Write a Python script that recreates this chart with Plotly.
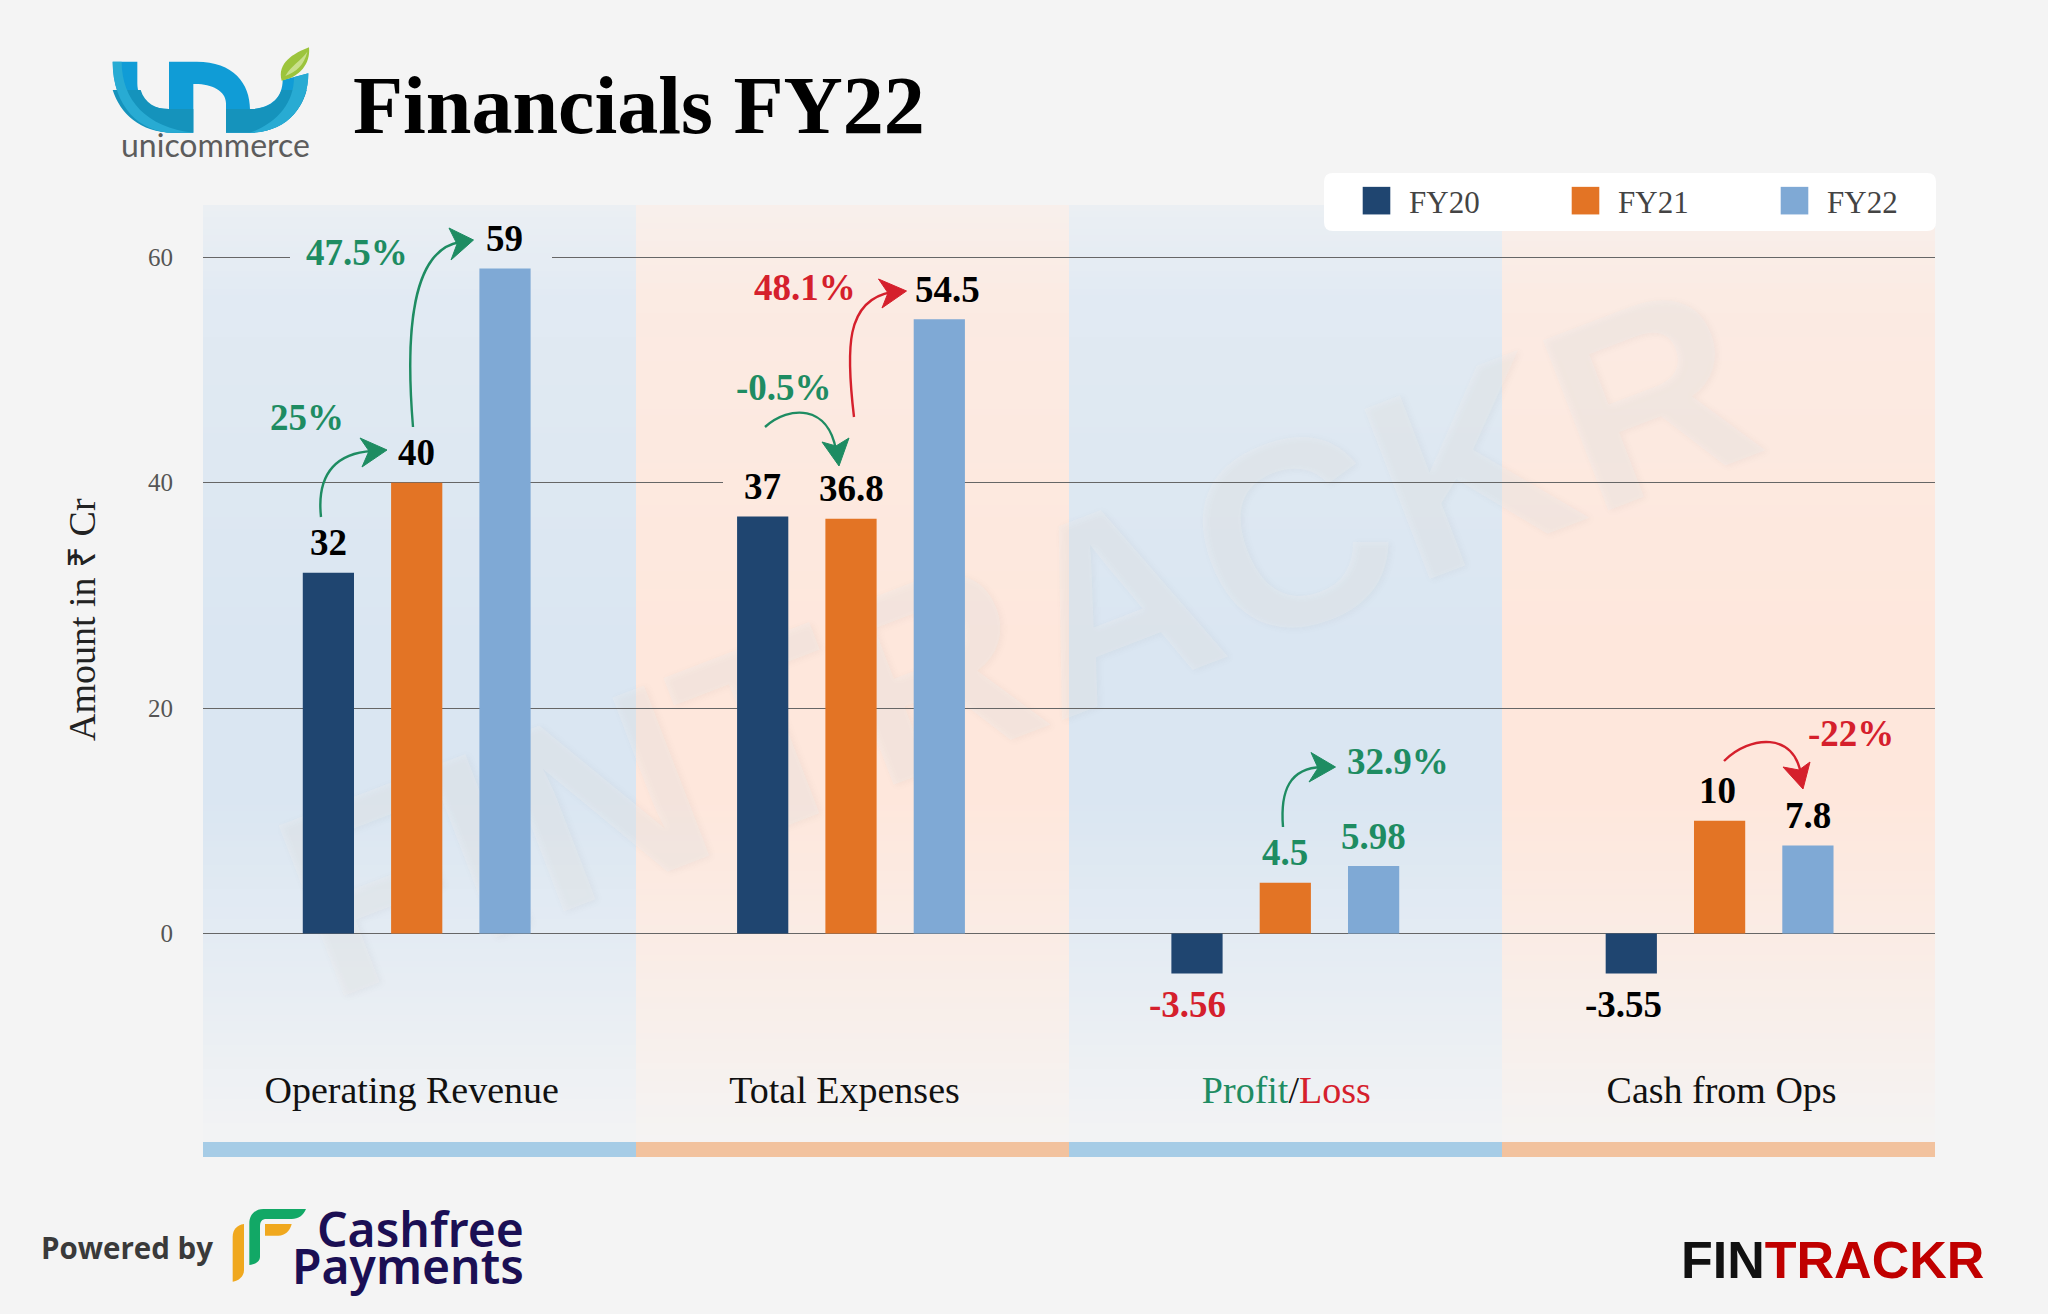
import numpy as np
import plotly.graph_objects as go

categories = ["Operating Revenue", "Total Expenses", "Profit/Loss", "Cash from Ops"]
tick_labels = ["Operating Revenue", "Total Expenses",
               '<span style="color:#1E8C62">Profit</span>/<span style="color:#D5202C">Loss</span>',
               "Cash from Ops"]
fy20 = [32, 37, -3.56, -3.55]
fy21 = [40, 36.8, 4.5, 10]
fy22 = [59, 54.5, 5.98, 7.8]
series_names = ["FY20", "FY21", "FY22"]
series_colors = ["#1F4570", "#E37425", "#7FA9D5"]
y_ticks = [0, 20, 40, 60]

W, H = 2048, 1314
L, R, T, B = 203, 1935, 205, 1054   # plot area in page pixels
BG = "#F4F4F4"
GREEN, RED = "#1E8C62", "#D5202C"
SERIF = "Liberation Serif"

X0, XS = 416.7, 434.3
Y0, YS = 933.5, 11.27


def px(x):
    return (x - L) / (R - L)


def py(y):
    return 1 - (y - T) / (B - T)


def path(d):
    """SVG-like path given in page pixels -> paper coordinates."""
    out, toks = [], d.split()
    for t in toks:
        if "," in t:
            a, b = t.split(",")
            out.append(f"{px(float(a)):.5f},{py(float(b)):.5f}")
        else:
            out.append(t)
    return " ".join(out)


def rel(d, ox, oy, s=1 / 3):
    out = []
    for t in d.split():
        if "," in t:
            a, b = t.split(",")
            out.append(f"{ox + float(a) * s:.2f},{oy + float(b) * s:.2f}")
        else:
            out.append(t)
    return " ".join(out)


def mix(c, a):
    b = np.array([0xF4, 0xF4, 0xF4])
    r = b + (np.array(c) - b) * a
    return "rgb(%d,%d,%d)" % tuple(np.round(r))


def fade(y):
    return float(np.interp(y, [205, 300, 650, 800, 1000, 1142], [0.35, 0.72, 1, 1, 0.45, 0.05]))


BLUE_BAND, ORANGE_BAND = (218, 230, 242), (254, 231, 220)

fig = go.Figure()
for name, vals, col in zip(series_names, [fy20, fy21, fy22], series_colors):
    fig.add_bar(name=name, x=list(range(4)), y=vals, marker=dict(color=col, line=dict(width=0)))

shapes, ann = [], []

# background bands with vertical fade
edges = np.arange(205, 1143, 6)
for i in range(4):
    c = BLUE_BAND if i % 2 == 0 else ORANGE_BAND
    for a, b in zip(edges[:-1], edges[1:]):
        shapes.append(dict(type="rect", xref="paper", yref="paper", layer="below",
                           x0=i / 4, x1=(i + 1) / 4, y0=py(a), y1=py(b + 1),
                           fillcolor=mix(c, fade((a + b) / 2)), line=dict(width=0)))
    shapes.append(dict(type="rect", xref="paper", yref="paper", layer="below",
                       x0=i / 4, x1=(i + 1) / 4, y0=py(1142), y1=py(1157),
                       fillcolor="#A6CCE6" if i % 2 == 0 else "#F2C29E", line=dict(width=0)))

# watermark
shapes.append(dict(type="rect", xref="paper", yref="paper", layer="below",
                   x0=px(207), x1=px(1807), y0=py(816), y1=py(416),
                   line=dict(width=0), fillcolor="rgba(0,0,0,0)",
                   label=dict(text="FINTRACKR", textangle=-21, textposition="middle center",
                              font=dict(family="Liberation Sans", size=265, weight=700,
                                        color="rgba(240,240,240,0.3)",
                                        shadow="2px 2px 6px rgba(120,120,120,0.22)"))))

# gaps in the gridlines behind labels
for (xa, xb, v, c) in [(290, 552, 60, BLUE_BAND), (723, 963, 40, ORANGE_BAND)]:
    pix = Y0 - v * YS
    shapes.append(dict(type="rect", xref="x", yref="y", layer="between",
                       x0=(xa - X0) / XS, x1=(xb - X0) / XS, y0=v - 0.25, y1=v + 0.25,
                       fillcolor=mix(c, fade(pix)), line=dict(width=0)))

# legend plate
lx0, lx1, ly0, ly1, rr = 1324, 1936, 173, 231, 9
shapes.append(dict(type="path", xref="paper", yref="paper", layer="below", fillcolor="white",
                   line=dict(width=0),
                   path=path(f"M {lx0+rr},{ly0} L {lx1-rr},{ly0} Q {lx1},{ly0} {lx1},{ly0+rr} "
                             f"L {lx1},{ly1-rr} Q {lx1},{ly1} {lx1-rr},{ly1} L {lx0+rr},{ly1} "
                             f"Q {lx0},{ly1} {lx0},{ly1-rr} L {lx0},{ly0+rr} Q {lx0},{ly0} {lx0+rr},{ly0} Z")))

# curved arrows: (curve, head, colour)
arrows = [
    ("M 321,517 C 316,470 340,453 372,451", "M 387,450 L 360,438 L 369,451 L 362,467 Z", GREEN),
    ("M 413,427 C 405,330 412,250 460,242", "M 473.5,240 L 449,228 L 457,244 L 451,260 Z", GREEN),
    ("M 765,427 C 790,405 828,405 836,450", "M 839,466 L 822,442 L 836,446 L 849,438 Z", GREEN),
    ("M 854,417 C 846,350 845,300 892,292", "M 906.5,291 L 878.5,279 L 888,293 L 882,308 Z", RED),
    ("M 1283,827 C 1280,790 1290,768 1322,767", "M 1335.5,767 L 1311,752.5 L 1318,768 L 1309,782 Z", GREEN),
    ("M 1724,761 C 1750,735 1795,732 1801,775", "M 1803,789 L 1783,767 L 1799,770 L 1810,762 Z", RED),
]
for curve, head, col in arrows:
    shapes.append(dict(type="path", xref="paper", yref="paper", layer="above", path=path(curve),
                       line=dict(color=col, width=2.4)))
    shapes.append(dict(type="path", xref="paper", yref="paper", layer="above", path=path(head),
                       fillcolor=col, line=dict(color=col, width=1)))

# Unicommerce mark
U = "M 38,65 L 112,65 L 112,130 C 112,180 150,207 207,207 L 207,65 L 290,65 C 400,65 450,130 450,208 " \
    "C 510,205 548,175 548,120 L 625,100 C 625,200 560,278 450,278 L 378,278 L 378,190 " \
    "C 378,150 330,130 280,132 L 280,278 L 220,278 C 120,278 38,200 38,65 Z"
U_low = "M 38,150 L 122,150 C 135,190 165,207 207,207 L 280,207 L 280,278 L 220,278 C 120,278 60,220 38,150 Z"
U_low2 = "M 378,207 L 450,207 C 500,207 530,190 545,150 L 620,150 C 600,230 530,278 450,278 L 378,278 Z"
U_l = "M 38,65 L 65,65 C 65,180 140,262 280,278 L 220,278 C 120,278 38,200 38,65 Z"
U_r = "M 582,112 L 625,100 C 625,200 560,278 450,278 C 530,250 582,190 582,112 Z"
leaf = "M 545,122 C 530,70 580,40 627,22 C 632,70 600,112 545,122 Z"
vein = "M 556,108 C 575,75 600,65 622,35 C 612,75 590,95 556,108 Z"
for d, c in [(U, "#109CD6"), (U_low, "#1593BC"), (U_low2, "#1593BC"), (U_l, "#28ABD3"),
             (U_r, "#28ABD3"), (leaf, "#9CC43C"), (vein, "#C9E08C")]:
    shapes.append(dict(type="path", xref="paper", yref="paper", layer="below",
                       path=path(rel(d, 100, 40)), fillcolor=c, line=dict(width=0)))

# Cashfree mark
cf = [("M 88,210 L 88,85 C 88,60 105,42 130,42 L 258,42 C 250,62 235,72 215,72 L 140,72 "
       "C 125,72 120,80 120,95 L 120,185 C 120,200 105,208 88,210 Z", "#12A866"),
      ("M 135,87 L 215,87 C 210,108 195,122 175,122 L 135,122 Z", "#F0A81E"),
      ("M 38,125 C 38,105 50,90 72,87 L 72,225 C 72,245 55,258 38,260 Z", "#F0A81E")]
for d, c in cf:
    shapes.append(dict(type="path", xref="paper", yref="paper", layer="below",
                       path=path(rel(d, 220, 1195)), fillcolor=c, line=dict(width=0)))


def note(x, y, text, size, color="#000", family=SERIF, weight=400, anchor="center", angle=0):
    ann.append(dict(xref="paper", yref="paper", x=px(x), y=py(y), text=text, showarrow=False,
                    xanchor=anchor, yanchor="middle", textangle=angle,
                    font=dict(family=family, size=size, color=color, weight=weight)))


# data labels, placed from the data values
label_colors = {(2, 0): RED, (2, 1): GREEN, (2, 2): GREEN}
label_xshift = {(1, 2): 8, (2, 0): -10, (3, 0): -8, (3, 1): -2}
for j, vals in enumerate([fy20, fy21, fy22]):
    for i, v in enumerate(vals):
        ann.append(dict(xref="x", yref="y", x=i + (j - 1) * 0.2032, y=v, text=str(v), showarrow=False,
                        xanchor="center", yanchor="middle", xshift=label_xshift.get((i, j), 0),
                        yshift=30 if v > 0 else -31,
                        font=dict(family=SERIF, size=37, weight=700, color=label_colors.get((i, j), "#000"))))

# growth labels
for x, y, t, c in [(357, 252.6, "47.5%", GREEN), (307, 417.7, "25%", GREEN), (804.7, 287, "48.1%", RED),
                   (784, 387.5, "-0.5%", GREEN), (1397.6, 761.7, "32.9%", GREEN), (1851, 733.7, "-22%", RED)]:
    note(x, y, t, 37, c, weight=700)

note(82, 620, "Amount in ₹ Cr", 38, "#222", angle=-90)
note(215, 145, "unicommerce", 32, "#5C5C5C", family="Lato")
note(39, 1247, "Powered by", 29.5, "#3A3A3A", family="Open Sans", weight=700, anchor="left")
note(526, 1228, "Cashfree", 48, "#1B0F54", family="Noto Sans", weight=600, anchor="right")
note(526, 1265, "Payments", 48, "#1B0F54", family="Noto Sans", weight=600, anchor="right")
note(1679, 1260, '<span style="color:#111">FIN</span><span style="color:#C00000">TRACKR</span>', 52,
     family="Liberation Sans", weight=700, anchor="left")

tick_offsets = [-5 / XS, -6.5 / XS, 1 / XS, 2 / XS]

fig.update_layout(
    width=W, height=H, autosize=False,
    margin=dict(l=L, r=W - R, t=T, b=H - B, pad=0),
    paper_bgcolor=BG, plot_bgcolor="rgba(0,0,0,0)",
    barmode="group", bargap=0.39, bargroupgap=0.42,
    title=dict(text="Financials FY22", x=353 / W, xref="container", xanchor="left",
               y=1 - 104 / H, yref="container", yanchor="middle",
               font=dict(family=SERIF, size=82, weight=700, color="#000")),
    font=dict(family=SERIF, color="#000"),
    xaxis=dict(tickmode="array", tickvals=[i + o for i, o in enumerate(tick_offsets)], ticktext=tick_labels,
               range=[(L - X0) / XS, (R - X0) / XS], showgrid=False, zeroline=False, showline=False,
               ticks="outside", ticklen=2, tickcolor="rgba(0,0,0,0)",
               tickfont=dict(family=SERIF, size=38, color="#111")),
    yaxis=dict(tickmode="array", tickvals=y_ticks, range=[(Y0 - B) / YS, (Y0 - T) / YS],
               showgrid=True, gridcolor="#666666", gridwidth=1,
               zeroline=True, zerolinecolor="#666666", zerolinewidth=1, showline=False,
               ticks="outside", ticklen=24, tickcolor="rgba(0,0,0,0)",
               tickfont=dict(family=SERIF, size=25, color="#555")),
    legend=dict(orientation="h", x=px(1344), y=py(201), xanchor="left", yanchor="middle",
                bgcolor="rgba(0,0,0,0)", itemwidth=55, entrywidth=139, entrywidthmode="pixels",
                font=dict(family=SERIF, size=31, color="#444"), traceorder="normal",
                itemclick=False, itemdoubleclick=False),
    showlegend=True, shapes=shapes, annotations=ann,
)

post = """
document.body.style.margin='0';
document.documentElement.style.overflow='hidden';
document.querySelectorAll('.legend .legendpoints path').forEach(function(p){
  var t = p.getAttribute('transform') || '';
  p.setAttribute('transform', t + ' scale(2.3)');
});
"""
fig.write_html("out.html", post_script=post, config=dict(displayModeBar=False))
